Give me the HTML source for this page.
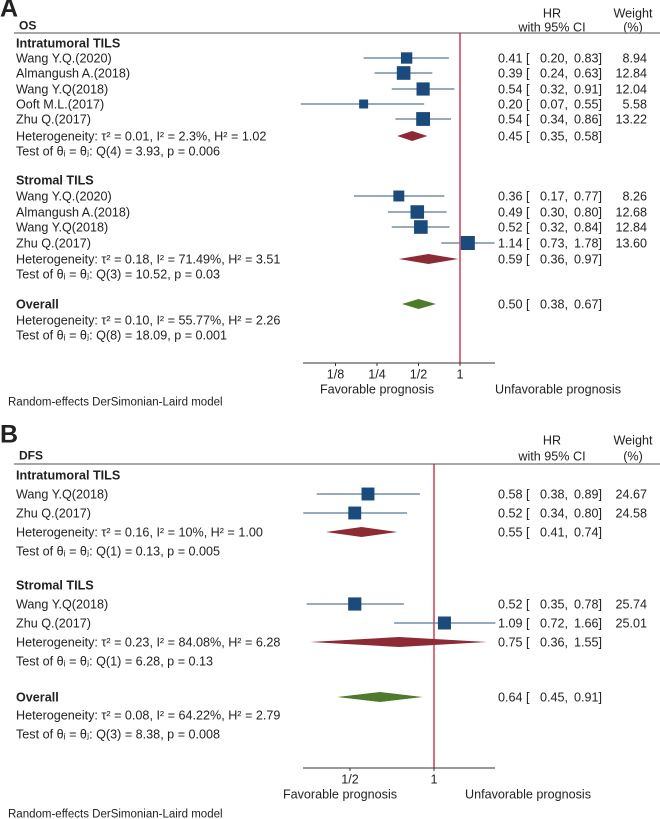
<!DOCTYPE html>
<html><head><meta charset="utf-8"><style>
body{margin:0;background:#fff;}
svg{display:block;font-family:"Liberation Sans",Arial,sans-serif;}
</style></head><body>
<svg id="chart" width="660" height="819" viewBox="0 0 660 819"></svg>
<script>
// Panel A (OS) data
const aLabels = ["Wang Y.Q.(2020)","Almangush A.(2018)","Wang Y.Q(2018)","Ooft M.L.(2017)","Zhu Q.(2017)","Wang Y.Q.(2020)","Almangush A.(2018)","Wang Y.Q(2018)","Zhu Q.(2017)"];
const aHR = [0.41,0.39,0.54,0.20,0.54,0.36,0.49,0.52,1.14];
const aLo = [0.20,0.24,0.32,0.07,0.34,0.17,0.30,0.32,0.73];
const aHi = [0.83,0.63,0.91,0.55,0.86,0.77,0.80,0.84,1.78];
const aW = [8.94,12.84,12.04,5.58,13.22,8.26,12.68,12.84,13.60];
const aRowY = [58,73,89,104,119,196,212,227,243];
const aPoolHR = [0.45,0.59,0.50];
const aPoolLo = [0.35,0.36,0.38];
const aPoolHi = [0.58,0.97,0.67];
const aTicks = [0.125,0.25,0.5,1];
const aTickLabels = ["1/8","1/4","1/2","1"];
// Panel B (DFS) data
const bLabels = ["Wang Y.Q(2018)","Zhu Q.(2017)","Wang Y.Q(2018)","Zhu Q.(2017)"];
const bHR = [0.58,0.52,0.52,1.09];
const bLo = [0.38,0.34,0.35,0.72];
const bHi = [0.89,0.80,0.78,1.66];
const bW = [24.67,24.58,25.74,25.01];
const bRowY = [494,513,604,623];
const bPoolHR = [0.55,0.75,0.64];
const bPoolLo = [0.41,0.36,0.45];
const bPoolHi = [0.74,1.55,0.91];
const bTicks = [0.5,1];
const bTickLabels = ["1/2","1"];

const NS="http://www.w3.org/2000/svg";
const svg=document.getElementById('chart');
const FS=12.6;
function mk(tag,attrs,parent){const e=document.createElementNS(NS,tag);for(const k in attrs)e.setAttribute(k,attrs[k]);(parent||svg).appendChild(e);return e;}
function txt(x,y,s,opts){opts=opts||{};const t=mk('text',{x:x,y:y+4.5,'font-size':opts.size||FS,fill:'#222','text-anchor':opts.anchor||'start','font-weight':opts.bold?'bold':'normal'});t.textContent=s;return t;}
const f2=v=>v.toFixed(2);
function ciText(y,h,l,u,name){
  let e=txt(498,y,f2(h)+" [");
  
  
  e=txt(540,y,f2(l)+",");
  
  
  e=txt(574,y,f2(u)+"]");
  
  
}

function panel(o){
  const sx=v=>o.x1+Math.log2(v)*o.k;
  let t=txt(0,o.letterY,o.letter,{size:25,bold:true});
  
  
  t=txt(19,o.titleY,o.title,{bold:true,size:12});
  
  
  t=txt(552,o.hrY1,"HR",{anchor:'middle'});
  
  
  t=txt(552,o.hrY2,"with 95% CI",{anchor:'middle'});
  
  
  t=txt(633,o.hrY1,"Weight",{anchor:'middle'});
  
  
  t=txt(633,o.hrY2,"(%)",{anchor:'middle'});
  
  
  let l=mk('line',{x1:14,x2:660,y1:o.ruleY,y2:o.ruleY,stroke:'#8a8a8a','stroke-width':1.5});
  
  
  l=mk('line',{x1:sx(1),x2:sx(1),y1:o.ruleY,y2:o.axisY,stroke:'#c0102a','stroke-width':1.2});
  
  
  o.headings.forEach(h=>{const e=txt(16,h[1],h[0],{bold:true});
    
    });
  o.notes.forEach(h=>{const e=txt(16,h[1],h[0]);
    
    });
  o.labels.forEach((lab,i)=>{
    const y=o.rowY[i];
    let e=txt(16,y,lab);
    
    
    e=mk('line',{x1:sx(o.lo[i]),x2:sx(o.hi[i]),y1:y,y2:y,stroke:'#5a7896','stroke-width':1.2});
    
    
    const s=o.bs*Math.sqrt(o.w[i]);
    e=mk('rect',{x:sx(o.hr[i])-s/2,y:y-s/2,width:s,height:s,fill:'#1b4a7c'});
    
    
    ciText(y,o.hr[i],o.lo[i],o.hi[i],'study-hr-text');
    e=txt(647,y,f2(o.w[i]),{anchor:'end'});
    
    
  });
  o.pHR.forEach((v,i)=>{
    const y=o.poolY[i], c=i==2?'#4e7a2b':'#8c2b36';
    let e=mk('polygon',{points:[sx(o.pLo[i])+','+y,sx(v)+','+(y-5),sx(o.pHi[i])+','+y,sx(v)+','+(y+5)].join(' '),fill:c});
    
    
    ciText(y,v,o.pLo[i],o.pHi[i],'pooled-hr-text');
  });
  l=mk('line',{x1:303,x2:495,y1:o.axisY,y2:o.axisY,stroke:'#333','stroke-width':1});
  
  
  o.ticks.forEach((v,i)=>{
    let e=mk('line',{x1:sx(v),x2:sx(v),y1:o.axisY,y2:o.axisY+3,stroke:'#333'});
    
    
    e=txt(sx(v),o.axisY+11,o.tickLabels[i],{anchor:'middle'});
    
    
  });
  t=txt(o.favX,o.axisY+26,"Favorable prognosis",{anchor:'middle'});
  
  
  t=txt(o.unfX,o.axisY+26,"Unfavorable prognosis",{anchor:'middle'});
  
  
  t=txt(8,o.modelY,"Random-effects DerSimonian-Laird model",{size:11.5});
  
  
}

panel({letter:"A",letterY:12,title:"OS",titleY:25,hrY1:13,hrY2:27,ruleY:33,x1:460,k:41.5,bs:3.8,
  labels:aLabels,hr:aHR,lo:aLo,hi:aHi,w:aW,rowY:aRowY,
  pHR:aPoolHR,pLo:aPoolLo,pHi:aPoolHi,poolY:[136,259,304],
  headings:[["Intratumoral TILS",43],["Stromal TILS",180],["Overall",304]],
  notes:[["Heterogeneity: τ² = 0.01, I² = 2.3%, H² = 1.02",136],["Test of θᵢ = θⱼ: Q(4) = 3.93, p = 0.006",151],
         ["Heterogeneity: τ² = 0.18, I² = 71.49%, H² = 3.51",259],["Test of θᵢ = θⱼ: Q(3) = 10.52, p = 0.03",274],
         ["Heterogeneity: τ² = 0.10, I² = 55.77%, H² = 2.26",320],["Test of θᵢ = θⱼ: Q(8) = 18.09, p = 0.001",335]],
  axisY:363,ticks:aTicks,tickLabels:aTickLabels,favX:377,unfX:558,modelY:401});

panel({letter:"B",letterY:438,title:"DFS",titleY:455,hrY1:440,hrY2:456,ruleY:464,x1:434,k:84,bs:2.6,
  labels:bLabels,hr:bHR,lo:bLo,hi:bHi,w:bW,rowY:bRowY,
  pHR:bPoolHR,pLo:bPoolLo,pHi:bPoolHi,poolY:[532,642,697],
  headings:[["Intratumoral TILS",475],["Stromal TILS",585],["Overall",697]],
  notes:[["Heterogeneity: τ² = 0.16, I² = 10%, H² = 1.00",532],["Test of θᵢ = θⱼ: Q(1) = 0.13, p = 0.005",551],
         ["Heterogeneity: τ² = 0.23, I² = 84.08%, H² = 6.28",642],["Test of θᵢ = θⱼ: Q(1) = 6.28, p = 0.13",661],
         ["Heterogeneity: τ² = 0.08, I² = 64.22%, H² = 2.79",715],["Test of θᵢ = θⱼ: Q(3) = 8.38, p = 0.008",734]],
  axisY:768,ticks:bTicks,tickLabels:bTickLabels,favX:340,unfX:528,modelY:813});
</script>
</body></html>
